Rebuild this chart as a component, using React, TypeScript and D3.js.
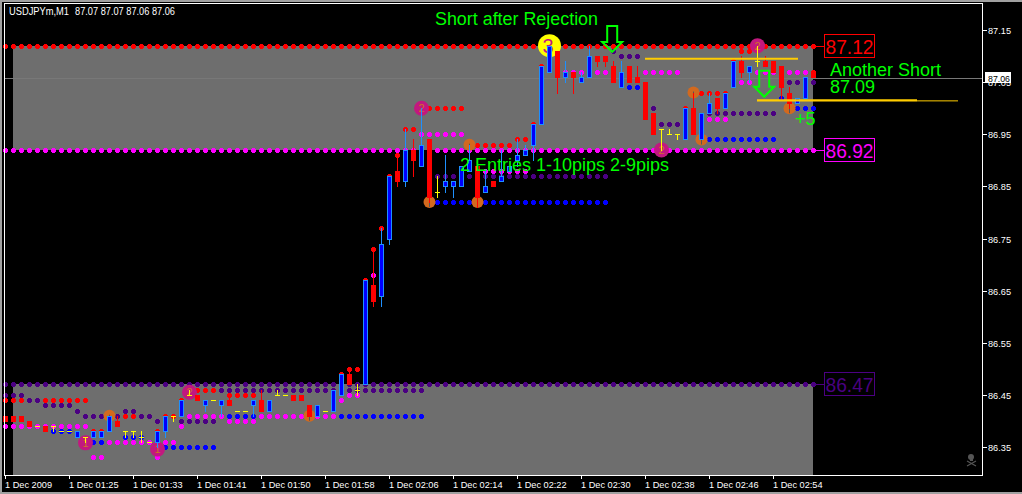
import React from "react";
import * as d3 from "d3";

const W = 1022, H = 494;
const L = 4, T = 3, R = 982, B = 475;

const opens = [86.41,86.41,86.41,86.40,86.39,86.39,86.39,86.38,86.38,86.37,
86.37,86.37,86.37,86.38,86.40,86.38,86.38,86.37,86.36,86.36,
86.38,86.41,86.41,86.45,86.45,86.43,86.44,86.43,86.44,86.42,
86.42,86.43,86.44,86.42,86.45,86.45,86.45,86.45,86.43,86.41,
86.42,86.42,86.45,86.49,86.46,86.47,86.66,86.64,86.75,86.88,
86.86,86.92,86.89,86.94,86.84,86.85,86.85,86.85,86.88,86.89,
86.84,86.86,86.86,86.88,86.90,86.91,86.93,86.97,87.07,87.11,
87.06,87.07,87.05,87.06,87.10,87.10,87.08,87.04,87.08,87.06,
87.05,86.99,86.96,86.95,86.95,86.94,87.00,86.94,86.99,87.02,
87.00,87.04,87.09,87.07,87.09,87.09,87.09,87.08,87.03,87.01,
87.02,87.07];
const closes = [86.40,86.40,86.40,86.39,86.39,86.38,86.39,86.38,86.38,86.38,
86.37,86.38,86.38,86.41,86.39,86.38,86.38,86.37,86.36,86.38,
86.41,86.41,86.44,86.45,86.44,86.44,86.44,86.44,86.43,86.42,
86.42,86.44,86.42,86.44,86.45,86.45,86.44,86.44,86.41,86.43,
86.42,86.46,86.49,86.47,86.46,86.67,86.63,86.74,86.87,86.86,
86.92,86.90,86.93,86.83,86.84,86.86,86.86,86.89,86.90,86.83,
86.85,86.85,86.87,86.89,86.91,86.92,86.97,87.08,87.12,87.06,
87.07,87.06,87.06,87.10,87.09,87.09,87.05,87.07,87.05,87.05,
86.98,86.95,86.96,86.95,86.95,87.00,86.95,86.99,87.01,87.00,
87.03,87.09,87.07,87.08,87.09,87.08,87.07,87.04,87.01,87.02,
87.06,87.06];
const highs = [86.41,86.41,86.41,86.40,86.39,86.39,86.39,86.38,86.38,86.38,
86.37,86.38,86.38,86.41,86.41,86.38,86.38,86.38,86.36,86.38,
86.41,86.41,86.44,86.46,86.45,86.44,86.44,86.44,86.45,86.42,
86.42,86.44,86.46,86.44,86.46,86.45,86.45,86.45,86.43,86.43,
86.42,86.46,86.49,86.50,86.47,86.67,86.73,86.77,86.87,86.91,
86.96,86.94,87.00,86.94,86.87,86.91,86.86,86.89,86.93,86.90,
86.88,86.86,86.92,86.89,86.94,86.93,86.97,87.08,87.12,87.11,
87.09,87.07,87.07,87.12,87.10,87.10,87.09,87.09,87.08,87.08,
87.05,86.99,86.96,86.96,86.95,87.00,87.03,86.99,87.03,87.02,
87.03,87.09,87.10,87.08,87.12,87.10,87.09,87.08,87.04,87.02,
87.06,87.07];
const lows = [86.40,86.40,86.40,86.39,86.39,86.38,86.38,86.38,86.38,86.37,
86.36,86.37,86.37,86.38,86.39,86.37,86.37,86.36,86.36,86.35,
86.37,86.40,86.41,86.45,86.44,86.42,86.44,86.41,86.43,86.42,
86.42,86.41,86.42,86.42,86.45,86.45,86.44,86.44,86.41,86.41,
86.42,86.42,86.45,86.47,86.45,86.47,86.62,86.62,86.74,86.85,
86.85,86.87,86.89,86.82,86.83,86.84,86.83,86.85,86.88,86.81,
86.84,86.85,86.86,86.88,86.89,86.91,86.90,86.97,87.07,87.03,
87.05,87.03,87.05,87.06,87.08,87.08,87.05,87.04,87.05,87.05,
86.98,86.95,86.92,86.95,86.94,86.94,86.95,86.94,86.99,86.99,
87.00,87.04,87.06,87.05,87.08,87.08,87.07,87.02,87.00,87.01,
87.02,87.06];

type Seg = [number, number, number];
const redLevels: Seg[] = [[0,101,87.12],[0,2,86.44],[5,10,86.44],[15,16,86.41],[20,21,86.41],[11,12,86.38],[19,19,86.38],[22,22,86.44],[23,26,86.46],[28,31,86.45],[42,42,86.49],[43,44,86.50],[45,45,86.67],[46,46,86.73],[47,47,86.77],[48,48,86.87],[49,49,86.91],[50,51,86.96],[52,57,87.00],[58,63,86.93],[64,65,86.94],[66,66,86.97],[67,67,87.08],[85,85,87.00],[86,90,87.03],[91,91,87.09],[92,93,87.11],[101,101,87.07]];
const purpleLevels: Seg[] = [[0,101,86.47],[0,2,86.45],[3,4,86.44],[5,8,86.43],[9,9,86.42],[15,16,86.42],[10,14,86.41],[17,18,86.41],[19,19,86.40],[22,26,86.40],[27,52,86.46],[54,75,86.87],[76,76,87.11],[77,79,87.10],[81,81,87.00],[82,84,86.97],[88,96,86.99],[98,101,87.05]];
const magentaLevels: Seg[] = [[0,101,86.92],[0,10,86.39],[22,22,86.39],[13,21,86.36],[11,12,86.33],[19,19,86.33],[23,27,86.41],[28,31,86.40],[32,41,86.41],[42,42,86.44],[43,44,86.45],[46,46,86.68],[52,57,86.95],[60,65,86.88],[70,72,87.07],[74,75,87.07],[80,84,87.07],[88,90,86.98],[92,93,87.05],[94,100,87.07]];
const blueLevels: Seg[] = [[6,8,86.38],[15,17,86.37],[10,12,86.36],[20,26,86.35],[28,31,86.41],[42,52,86.41],[53,75,86.82],[78,79,87.04],[88,96,86.94],[97,97,87.02],[98,101,87.00]];

const orangeBars = [13,38,53,59,58,86,87,98];
const orangePrices = [86.41,86.41,86.82,86.82,86.93,87.03,86.94,87.00];
const pinkBars = [10,19,23,52,82,94];
const pinkPrices = [86.358,86.346,86.455,87.00,86.92,87.12];
const arrowBars = [75.9,94.9];
const arrowTips = [87.108,87.022];

const yTicks = [87.15,87.05,86.95,86.85,86.75,86.65,86.55,86.45,86.35];
const timeLabels = ["1 Dec 2009","1 Dec 01:25","1 Dec 01:33","1 Dec 01:41","1 Dec 01:50","1 Dec 01:58","1 Dec 02:06","1 Dec 02:14","1 Dec 02:22","1 Dec 02:30","1 Dec 02:38","1 Dec 02:46","1 Dec 02:54"];
const timeBars = [0,8,16,24,32,40,48,56,64,72,80,88,96];

const x = d3.scaleLinear().domain([0, 101]).range([5, 813]);
const y = d3.scaleLinear().domain([86.35, 87.15]).range([447, 30]);
const ry = (p: number) => Math.round(y(p));

const GREY = "#6e6e6e";
const LIME = "#00ff00";
const AXIS = "'Liberation Sans', Arial, sans-serif";

function Dots({ segs, color }: { segs: Seg[]; color: string }) {
  const pts: React.ReactElement[] = [];
  segs.forEach(([a, b, p], i) => {
    d3.range(a, b + 1).forEach((k) => {
      const cx = x(k), cy = ry(p);
      pts.push(
        <g key={i + "-" + k} fill={color} shapeRendering="crispEdges">
          <rect x={cx - 1} y={cy - 2} width={3} height={5} />
          <rect x={cx - 2} y={cy - 1} width={5} height={3} />
        </g>
      );
    });
  });
  return <g>{pts}</g>;
}

function Candle({ k }: { k: number }) {
  const o = opens[k], c = closes[k], hi = highs[k], lo = lows[k];
  const cx = x(k);
  const up = c > o, flat = c === o;
  const wick = flat ? "#ffff00" : up ? "#1e90ff" : "#ff0000";
  const top = ry(Math.max(o, c)), bot = ry(Math.min(o, c));
  return (
    <g shapeRendering="crispEdges">
      {hi !== lo && <rect x={cx} y={ry(hi)} width={1} height={ry(lo) - ry(hi) + 1} fill={wick} />}
      {flat ? (
        <rect x={cx - 2} y={top} width={5} height={1} fill="#ffff00" />
      ) : up ? (
        <g>
          <rect x={cx - 2} y={top} width={5} height={bot - top + 1} fill="#1e90ff" />
          <rect x={cx - 1} y={top + 1} width={3} height={bot - top - 1} fill="#0000ff" />
        </g>
      ) : (
        <rect x={cx - 2} y={top} width={5} height={bot - top + 1} fill="#ff0000" />
      )}
    </g>
  );
}

function PriceBox({ p, color }: { p: number; color: string }) {
  const yy = ry(p);
  return (
    <g>
      <line x1={813} x2={824} y1={yy + 0.5} y2={yy + 0.5} stroke={color} shapeRendering="crispEdges" />
      <rect x={824.5} y={yy - 11.5} width={50} height={23} fill="none" stroke={color} shapeRendering="crispEdges" />
      <text x={825.5} y={yy + 8} fontSize={21} fill={color} fontFamily={AXIS} textLength={48} lengthAdjust="spacingAndGlyphs">{p.toFixed(2)}</text>
    </g>
  );
}

function Arrow({ k, p }: { k: number; p: number }) {
  const tx = x(k), ty = y(p);
  const d = [[tx - 5, ty - 26], [tx + 5, ty - 26], [tx + 5, ty - 10], [tx + 10, ty - 10], [tx, ty], [tx - 10, ty - 10], [tx - 5, ty - 10]];
  return <path d={d3.line()(d as [number, number][]) + "Z"} fill="none" stroke={LIME} strokeWidth={2} />;
}

export default function App() {
  const bars = d3.range(opens.length);
  const upperTop = ry(87.12), upperBot = ry(86.92), lowerTop = ry(86.47);
  return (
    <svg width={W} height={H} viewBox={`0 0 ${W} ${H}`} style={{ position: "absolute", left: 0, top: 0, display: "block", background: "#000" }}>
      <rect x={0} y={0} width={W} height={2} fill="#a0a0a0" />
      <rect x={0} y={0} width={2} height={H} fill="#a0a0a0" />
      <rect x={0} y={H - 2} width={W} height={2} fill="#a0a0a0" />

      <g shapeRendering="crispEdges">
        <rect x={x(1)} y={upperTop} width={x(101) - x(1)} height={upperBot - upperTop} fill={GREY} />
        <rect x={x(1)} y={lowerTop} width={x(101) - x(1)} height={B - lowerTop} fill={GREY} />
      </g>
      <line x1={L} x2={R} y1={ry(87.06) + 1.5} y2={ry(87.06) + 1.5} stroke="#787878" shapeRendering="crispEdges" />

      <Dots segs={purpleLevels} color="#4b0082" />
      <Dots segs={blueLevels} color="#0000ff" />
      <Dots segs={magentaLevels} color="#ff00ff" />
      <Dots segs={redLevels} color="#ff0000" />

      {orangeBars.map((k, i) => (
        <g key={k}>
          <circle cx={x(k) + 0.5} cy={y(orangePrices[i])} r={6} fill="#d2691e" />
          <rect x={x(k)} y={y(orangePrices[i]) - 1} width={1} height={6} fill="#555" />
        </g>
      ))}
      {pinkBars.map((k, i) => (
        <g key={k}>
          <circle cx={x(k) + 0.5} cy={y(pinkPrices[i])} r={7.5} fill="#c2187f" />
          <text x={x(k) + 0.5} y={y(pinkPrices[i]) + 4} textAnchor="middle" fontSize={11} fontFamily={AXIS} fill="#d0702a">{i < 2 ? "1" : "2"}</text>
        </g>
      ))}
      <circle cx={x(68) + 0.5} cy={y(87.12)} r={11.5} fill="#ffff00" />
      <text x={x(68) - 1} y={y(87.12) + 7} textAnchor="middle" fontSize={20} fontFamily={AXIS} fill="#c2187f">3</text>

      {bars.map((k) => <Candle key={k} k={k} />)}

      <line x1={645} x2={798} y1={y(87.095)} y2={y(87.095)} stroke="#ffcc00" strokeWidth={2} />
      <line x1={757} x2={917} y1={y(87.015)} y2={y(87.015)} stroke="#ffcc00" strokeWidth={2} />
      <line x1={757} x2={958} y1={y(87.015) + 0.5} y2={y(87.015) + 0.5} stroke="#ffcc00" strokeWidth={1} />

      <PriceBox p={87.12} color="#ff0000" />
      <PriceBox p={86.92} color="#ff00ff" />
      <PriceBox p={86.47} color="#4b0082" />

      {arrowBars.map((k, i) => <Arrow key={k} k={k} p={arrowTips[i]} />)}

      <g fontFamily={AXIS} fill={LIME}>
        <text x={435} y={25} fontSize={18} textLength={163} lengthAdjust="spacingAndGlyphs">Short after Rejection</text>
        <text x={460} y={171} fontSize={18}>2 Entries 1-10pips 2-9pips</text>
        <text x={830} y={76} fontSize={18}>Another Short</text>
        <text x={830} y={93} fontSize={18}>87.09</text>
        <text x={795} y={125} fontSize={18}>+5</text>
      </g>

      <rect x={L + 0.5} y={T + 0.5} width={R - L} height={B - T} fill="none" stroke="#ffffff" shapeRendering="crispEdges" />
      <g fontFamily={AXIS} fontSize={10} fill="#fff">
        <text x={9} y={15} textLength={60} lengthAdjust="spacingAndGlyphs">USDJPYm,M1</text>
        <text x={75} y={15} textLength={100} lengthAdjust="spacingAndGlyphs">87.07 87.07 87.06 87.06</text>
      </g>

      <g fontFamily={AXIS} fontSize={9.2} fill="#fff">
        {yTicks.map((t) => (
          <g key={t}>
            <line x1={R} x2={R + 5} y1={ry(t) + 0.5} y2={ry(t) + 0.5} stroke="#fff" shapeRendering="crispEdges" />
            <text x={R + 6} y={ry(t) + 4} textLength={23} lengthAdjust="spacingAndGlyphs">{t.toFixed(2)}</text>
          </g>
        ))}
        {timeBars.map((k, i) => (
          <g key={k}>
            <line x1={x(k) + 0.5} x2={x(k) + 0.5} y1={B} y2={B + 4} stroke="#fff" shapeRendering="crispEdges" />
            <text x={x(k)} y={488}>{timeLabels[i]}</text>
          </g>
        ))}
      </g>
      <rect x={985} y={72} width={26} height={11} fill="#fff" />
      <text x={988} y={81.5} fontSize={9.2} fontFamily={AXIS} fill="#000" textLength={22} lengthAdjust="spacingAndGlyphs">87.06</text>

      <g fill="#555">
        <circle cx={971} cy={457} r={3} />
        <rect x={970} y={459} width={3} height={2} />
        <path d="M967 461 L976 466 M976 461 L967 466" stroke="#555" strokeWidth={1.2} />
      </g>
    </svg>
  );
}
